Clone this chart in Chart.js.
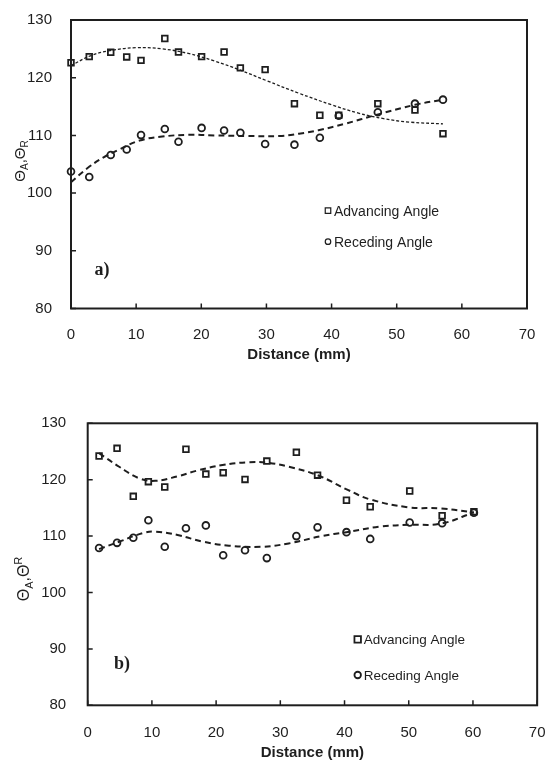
<!DOCTYPE html>
<html>
<head>
<meta charset="utf-8">
<script src="https://cdn.jsdelivr.net/npm/chart.js@4.4.0/dist/chart.umd.min.js"></script>
<style>
  body { margin: 0; background: #fff; }
  .box { position: absolute; left: 0; width: 556px; }
  #boxA { top: 0; height: 380px; }
  #boxB { top: 395px; height: 368px; }
</style>
</head>
<body>
<div class="box" id="boxA"><canvas id="chartA"></canvas></div>
<div class="box" id="boxB"><canvas id="chartB"></canvas></div>
<script>
// panel a) measured points
const distA = [0, 2.8, 6.1, 8.55, 10.75, 14.4, 16.5, 20.05, 23.5, 26.0, 29.8, 34.3, 38.2, 41.1, 47.1, 52.8, 57.1];
const advA = [122.6, 123.65, 124.4, 123.6, 123.0, 126.8, 124.45, 123.65, 124.45, 121.7, 121.4, 115.5, 113.5, 113.5, 115.5, 114.4, 110.3];
const recA = [103.75, 102.8, 106.6, 107.55, 110.05, 111.1, 108.9, 111.3, 110.85, 110.45, 108.5, 108.4, 109.6, 113.4, 114.0, 115.5, 116.2];
// panel a) trend lines (read off the picture)
const advFitDistA = [0, 3, 6, 10, 14, 18, 22, 26, 30, 35, 40, 44, 48, 52, 57.1];
const advFitA = [122.1, 123.8, 124.7, 125.2, 125.0, 124.2, 122.9, 121.3, 119.5, 117.3, 115.3, 113.9, 112.9, 112.3, 112.0];
const recFitDistA = [0, 2.5, 5, 7.5, 10.5, 14, 18, 22, 27, 32, 35, 38, 42, 47, 52.8, 57.1];
const recFitA = [101.9, 104.3, 106.2, 107.6, 109.1, 109.8, 110.1, 110.0, 109.9, 109.9, 110.3, 110.9, 112.0, 113.6, 115.3, 116.2];

// panel b) measured points
const distB = [1.77, 4.57, 7.1, 9.45, 12.0, 15.3, 18.4, 21.1, 24.5, 27.9, 32.5, 35.8, 40.3, 44.0, 50.15, 55.2, 60.15];
const advB = [124.2, 125.56, 117.05, 119.65, 118.7, 125.4, 121.0, 121.25, 120.05, 123.3, 124.85, 120.8, 116.35, 115.2, 118.0, 113.6, 114.3];
const recB = [107.9, 108.8, 109.7, 112.8, 108.1, 111.4, 111.9, 106.6, 107.5, 106.1, 110.0, 111.55, 110.7, 109.5, 112.4, 112.3, 114.15];
// panel b) trend lines
const advFitDistB = [1.77, 4.9, 8, 10.5, 14, 17, 21, 25, 28, 31.3, 35.8, 40.5, 44, 50, 55, 60.15];
const advFitB = [124.7, 122.3, 120.25, 119.8, 120.6, 121.6, 122.6, 123.1, 123.0, 122.3, 120.8, 118.2, 116.5, 115.1, 114.9, 114.2];
const recFitDistB = [1.77, 4.9, 8.5, 10.5, 14, 18, 22, 27, 31.3, 36.4, 40.3, 45.6, 50, 55, 60.15];
const recFitB = [107.7, 109.0, 110.5, 110.8, 110.2, 109.0, 108.3, 108.1, 108.7, 110.0, 110.7, 111.7, 112.0, 112.2, 114.2];

const xTicks = [0, 10, 20, 30, 40, 50, 60, 70];
const yTicks = [80, 90, 100, 110, 120, 130];
const seriesNames = ['Advancing Angle', 'Receding Angle'];

const INK = '#1e1e1e';
const SANS = 'Arial, "Liberation Sans", sans-serif';
Chart.defaults.font.family = SANS;
Chart.defaults.color = INK;

function pts(xs, ys) {
  return xs.map((x, i) => ({ x: x, y: ys[i] }));
}

// frame, inward ticks, legend, y title and panel letter
const decor = {
  id: 'decor',
  afterDraw(chart, args, o) {
    const ctx = chart.ctx;
    const a = chart.chartArea;
    const xs = chart.scales.x, ys = chart.scales.y;
    ctx.save();
    ctx.strokeStyle = INK;
    ctx.lineWidth = 2;
    ctx.strokeRect(a.left, a.top, a.right - a.left, a.bottom - a.top);
    ctx.lineWidth = 1.5;
    ctx.beginPath();
    xTicks.forEach(v => {
      const px = xs.getPixelForValue(v);
      ctx.moveTo(px, a.bottom);
      ctx.lineTo(px, a.bottom - 5);
    });
    yTicks.forEach(v => {
      const py = ys.getPixelForValue(v);
      ctx.moveTo(a.left, py);
      ctx.lineTo(a.left + 5, py);
    });
    ctx.stroke();

    // legend
    ctx.fillStyle = INK;
    ctx.font = o.legendFont + 'px ' + SANS;
    ctx.textBaseline = 'middle';
    ctx.textAlign = 'left';
    o.legend.forEach((it, i) => {
      ctx.lineWidth = o.legendStroke;
      ctx.beginPath();
      if (i === 0) {
        const s = o.legendMark;
        ctx.rect(it.x - s / 2, it.y - s / 2, s, s);
      } else {
        ctx.arc(it.x, it.y, o.legendMark / 2, 0, Math.PI * 2);
      }
      ctx.stroke();
      ctx.fillText(seriesNames[i], it.x + 6, it.y + 1);
    });

    // panel letter
    ctx.font = 'bold 18px "Liberation Serif", "Times New Roman", serif';
    ctx.textAlign = 'center';
    ctx.fillText(o.panel, o.panelX, o.panelY);

    // rotated y title with sub/superscripts
    const big = o.titleSize, small = Math.round(o.titleSize * 0.68);
    const parts = [
      ['\u0398', big, 0], ['A', small, small * 0.45], [',', big, 0],
      ['\u0398', big, 0], ['R', small, o.rSup ? -small * 0.55 : small * 0.45]
    ];
    let total = 0;
    parts.forEach(p => { ctx.font = p[1] + 'px ' + SANS; total += ctx.measureText(p[0]).width; });
    ctx.translate(o.titleX, o.titleY);
    ctx.rotate(-Math.PI / 2);
    ctx.textAlign = 'left';
    let cx = -total / 2;
    parts.forEach(p => {
      ctx.font = p[1] + 'px ' + SANS;
      ctx.fillText(p[0], cx, p[2]);
      cx += ctx.measureText(p[0]).width;
    });
    ctx.restore();
  }
};

function makeChart(id, d, lay) {
  const pointBase = { showLine: false, clip: false, borderColor: INK, backgroundColor: 'rgba(0,0,0,0)', borderWidth: 1.8 };
  const fitBase = { showLine: true, clip: false, pointRadius: 0, borderColor: INK, fill: false, tension: 0.4 };
  return new Chart(document.getElementById(id).getContext('2d'), {
    type: 'scatter',
    data: {
      datasets: [
        Object.assign({ label: seriesNames[0], data: pts(d.dist, d.adv), pointStyle: 'rect', pointRadius: 4 }, pointBase),
        Object.assign({ label: seriesNames[1], data: pts(d.dist, d.rec), pointStyle: 'circle', pointRadius: 3.4 }, pointBase),
        Object.assign({ label: 'adv fit', data: pts(d.advFitDist, d.advFit), borderWidth: lay.advFitWidth, borderDash: lay.advFitDash }, fitBase),
        Object.assign({ label: 'rec fit', data: pts(d.recFitDist, d.recFit), borderWidth: 2, borderDash: [6, 4] }, fitBase)
      ]
    },
    options: {
      responsive: true,
      maintainAspectRatio: false,
      animation: false,
      layout: { padding: lay.padding },
      plugins: {
        legend: { display: false },
        tooltip: { enabled: false },
        decor: lay.decor
      },
      scales: {
        x: {
          type: 'linear', min: 0, max: 70,
          afterBuildTicks: s => { s.ticks = xTicks.map(v => ({ value: v })); },
          ticks: { padding: lay.xPad, font: { size: 15 }, color: INK },
          grid: { display: false },
          border: { display: false },
          title: { display: true, text: 'Distance (mm)', color: INK, font: { size: 15, weight: 'bold' }, padding: { top: 0, bottom: lay.titlePad } },
          afterFit: s => { s.height = lay.xHeight; }
        },
        y: {
          min: 80, max: 130,
          afterBuildTicks: s => { s.ticks = yTicks.map(v => ({ value: v })); },
          ticks: { padding: lay.yPad, font: { size: 15 }, color: INK },
          grid: { display: false },
          border: { display: false },
          afterFit: s => { s.width = lay.yWidth; }
        }
      }
    },
    plugins: [decor]
  });
}

window.onload = function() {
  makeChart('chartA',
    { dist: distA, adv: advA, rec: recA, advFitDist: advFitDistA, advFit: advFitA, recFitDist: recFitDistA, recFit: recFitA },
    {
      padding: { top: 15.5, right: 29, left: 0, bottom: 0 },
      xHeight: 71.5, yWidth: 71, xPad: 9, yPad: 11, titlePad: 16,
      advFitWidth: 1.3, advFitDash: [3, 2],
      decor: {
        legend: [{ x: 328, y: 210.7 }, { x: 328, y: 241.7 }],
        legendFont: 14, legendMark: 5.5, legendStroke: 1.2,
        panel: 'a)', panelX: 102, panelY: 270,
        titleX: 21, titleY: 161, titleSize: 15, rSup: false
      }
    });

  makeChart('chartB',
    { dist: distB, adv: advB, rec: recB, advFitDist: advFitDistB, advFit: advFitB, recFitDist: recFitDistB, recFit: recFitB },
    {
      padding: { top: 28.3, right: 9, left: 0, bottom: 0 },
      xHeight: 57.7, yWidth: 87.7, xPad: 10.5, yPad: 13.5, titlePad: 1,
      advFitWidth: 2, advFitDash: [6, 4],
      decor: {
        legend: [{ x: 357.7, y: 244.3 }, { x: 357.7, y: 280 }],
        legendFont: 13.5, legendMark: 6.5, legendStroke: 1.8,
        panel: 'b)', panelX: 122, panelY: 269,
        titleX: 25, titleY: 184, titleSize: 16, rSup: true
      }
    });
};
</script>
</body>
</html>
